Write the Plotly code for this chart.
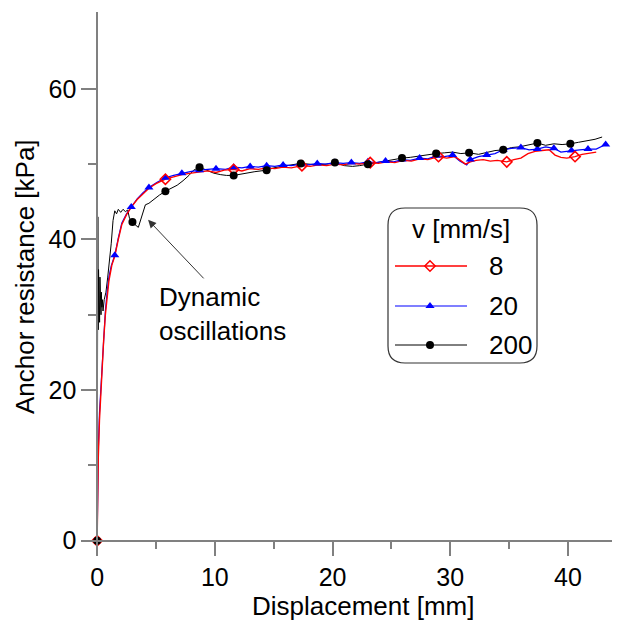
import plotly.graph_objects as go

# ---------------- data ----------------
red_x = [0, 0.03, 0.1, 0.2, 0.3, 0.4, 0.55, 0.7, 0.85, 1.0, 1.25, 1.5, 1.8, 2.1, 2.5, 2.9, 3.4, 3.9, 4.4, 5.0,
         5.8, 6.5, 7.2, 8.0, 8.7, 9.4, 10.1, 10.8, 11.6, 12.3, 13.0, 13.7, 14.4, 15.1, 15.8, 16.5, 17.4, 18.1, 18.8, 19.5,
         20.2, 20.9, 21.6, 22.3, 23.2, 23.9, 24.6, 25.3, 26.0, 26.7, 27.4, 28.1, 29.0, 29.7, 30.4, 30.9, 31.3, 31.7, 32.2, 32.8,
         33.4, 34.0, 34.8, 35.4, 36.0, 36.6, 37.2, 37.8, 38.4, 38.9, 39.4, 39.9, 40.6, 41.2, 41.8, 42.4]
red_y = [0, 5, 11, 16, 19.5, 22, 26.5, 30, 32.5, 34.5, 36.6, 37.8, 40, 42, 43.3, 44.3, 45.3, 46.1, 46.8, 47.4,
         48.0, 48.3, 48.6, 48.8, 49.0, 49.1, 48.9, 49.2, 49.3, 49.1, 49.4, 49.3, 49.5, 49.4, 49.6, 49.5, 49.8, 49.7, 49.9, 49.8,
         50.0, 49.9, 50.1, 50.0, 50.2, 50.1, 50.3, 50.2, 50.5, 50.4, 50.7, 50.6, 51.0, 50.8, 51.0, 50.4, 50.0, 50.3, 50.5, 50.6,
         50.4, 50.5, 50.3, 50.6, 50.8, 51.4, 51.7, 51.8, 51.9, 51.2, 50.9, 50.8, 51.0, 51.3, 51.5, 51.6]
red_mark_x = [0, 5.8, 11.6, 17.4, 23.2, 29.0, 34.8, 40.6]

blue_x = [0, 0.03, 0.1, 0.2, 0.3, 0.4, 0.55, 0.7, 0.85, 1.0, 1.2, 1.5, 1.8, 2.1, 2.5, 2.9, 3.4, 3.9, 4.4, 5.1,
          5.8, 6.5, 7.2, 7.9, 8.7, 9.4, 10.1, 10.9, 11.6, 12.3, 13.0, 13.7, 14.4, 15.1, 15.8, 16.5, 17.3, 18.0, 18.7, 19.4,
          20.2, 20.9, 21.6, 22.3, 23.0, 23.7, 24.5, 25.2, 25.9, 26.6, 27.4, 28.1, 28.8, 29.5, 30.2, 30.8, 31.4, 31.7, 32.4, 33.1,
          33.8, 34.5, 35.2, 36.0, 36.7, 37.4, 38.1, 38.8, 39.4, 39.9, 40.3, 41.0, 41.7, 42.4, 43.2]
blue_y = [0, 6, 12, 17, 20, 22.5, 27, 30.5, 33, 35, 36.5, 37.9, 40.2, 42.2, 43.4, 44.3, 45.4, 46.2, 46.9, 47.6,
          48.2, 48.5, 48.8, 49.0, 49.2, 49.3, 49.4, 49.3, 49.6, 49.5, 49.7, 49.6, 49.8, 49.7, 49.9, 49.8, 50.0, 49.9, 50.1, 50.0,
          50.2, 50.1, 50.2, 50.1, 50.3, 50.2, 50.4, 50.3, 50.6, 50.5, 50.8, 50.7, 51.1, 51.0, 51.2, 50.4, 49.9, 50.6, 51.0, 51.2,
          51.4, 51.9, 52.1, 52.2, 51.9, 52.0, 52.3, 52.1, 51.6, 51.7, 51.8, 51.9, 52.0, 52.0, 52.6]
blue_mark_x = [1.5, 2.9, 4.4, 5.8, 7.2, 8.7, 10.1, 11.6, 13.0, 14.4, 15.8, 17.3, 18.7, 20.2, 21.6, 23.0, 24.5, 25.9,
               27.4, 28.8, 30.2, 31.7, 33.1, 34.5, 36.0, 37.4, 38.8, 40.3, 41.7, 43.2]

black_x = [0, 0.03, 0.06, 0.09, 0.12, 0.15, 0.18, 0.21, 0.24, 0.27, 0.3, 0.33, 0.36, 0.4, 0.45, 0.5, 0.6, 0.75, 0.9, 1.05,
           1.2, 1.35, 1.5, 1.65, 1.8, 2.0, 2.2, 2.4, 2.6, 2.75, 3.0, 3.2, 3.5, 3.7, 3.85, 4.1, 4.4, 4.8, 5.3, 5.8,
           6.3, 6.8, 7.3, 7.8, 8.2, 8.7, 9.3, 9.9, 10.5, 11.0, 11.6, 12.2, 12.8, 13.4, 14.4, 15.0, 15.7, 16.5, 17.3, 18.0,
           18.8, 19.5, 20.2, 21.0, 21.7, 22.3, 23.0, 23.7, 24.4, 25.2, 25.9, 26.6, 27.4, 28.1, 28.8, 29.5, 30.2, 30.9, 31.6, 32.4,
           33.1, 33.8, 34.5, 35.2, 35.9, 36.6, 37.4, 38.1, 38.8, 39.5, 40.2, 40.9, 41.6, 42.3, 42.9]
black_y = [0, 22, 43, 28, 36, 30, 33, 29, 35, 31, 34, 30, 33, 31, 32, 30.5, 32, 33, 35, 37,
           39.5, 42.5, 43.8, 43.4, 44.0, 43.6, 44.0, 43.7, 43.9, 42.8, 42.3, 42.0, 41.6, 42.5, 43.4, 44.6, 44.8, 45.3, 45.9, 46.4,
           46.8, 47.2, 47.8, 48.5, 49.2, 49.6, 49.2, 48.8, 48.6, 48.5, 48.5, 48.7, 48.9, 49.0, 49.2, 49.5, 49.7, 49.9, 50.1, 50.0,
           49.9, 50.0, 50.2, 49.8, 49.7, 49.8, 50.0, 50.1, 50.3, 50.6, 50.8, 50.9, 51.1, 51.2, 51.4, 51.5, 51.6, 51.4, 51.5, 51.3,
           51.6, 51.8, 51.9, 52.2, 52.3, 52.5, 52.8, 52.5, 52.7, 52.6, 52.7, 52.9, 53.1, 53.3, 53.6]
black_mark_x = [0, 3.0, 5.8, 8.7, 11.6, 14.4, 17.3, 20.2, 23.0, 25.9, 28.8, 31.6, 34.5, 37.4, 40.2]

series_names = ["8", "20", "200"]
legend_title = "v [mm/s]"
x_title = "Displacement [mm]"
y_title = "Anchor resistance [kPa]"
x_ticks = [0, 10, 20, 30, 40]
x_minor = [5, 15, 25, 35]
y_ticks = [0, 20, 40, 60]
y_minor = [10, 30, 50]
note_text = "Dynamic<br>oscillations"

# ---------------- styling ----------------
FONT = "Liberation Sans, Arial, sans-serif"
AX = "#808080"
RED, BLUE, BLACK = "#ff0000", "#0000ff", "#000000"

# plot area in page pixels: x 83..620, y 12..555 (page has an 8px body offset)
PX0, PX1, PY0, PY1 = 83, 620, 12, 555


def px2paper_x(v):
    return (v - PX0) / (PX1 - PX0)


def px2paper_y(v):
    return (PY1 - v) / (PY1 - PY0)


def pick(xs, ys, marks):
    px, py = [], []
    for a, b in zip(xs, ys):
        if any(abs(a - m) < 1e-9 for m in marks):
            px.append(a)
            py.append(b)
    return px, py


fig = go.Figure()
fig.add_trace(go.Scatter(x=black_x, y=black_y, mode="lines", line=dict(color=BLACK, width=1)))
fig.add_trace(go.Scatter(x=blue_x, y=blue_y, mode="lines", line=dict(color=BLUE, width=1.2)))
fig.add_trace(go.Scatter(x=red_x, y=red_y, mode="lines", line=dict(color=RED, width=1.4)))

bx, by = pick(blue_x, blue_y, blue_mark_x)
fig.add_trace(go.Scatter(x=bx, y=by, mode="markers",
                         marker=dict(symbol="triangle-up", size=8, color=BLUE)))
rx, ry = pick(red_x, red_y, red_mark_x)
fig.add_trace(go.Scatter(x=rx, y=ry, mode="markers",
                         marker=dict(symbol="diamond-open", size=8, color=RED, line=dict(width=1.5, color=RED))))
kx, ky = pick(black_x, black_y, black_mark_x)
fig.add_trace(go.Scatter(x=kx, y=ky, mode="markers",
                         marker=dict(symbol="circle", size=8, color=BLACK)))

# ---------------- manual legend on a pixel-like overlay axis ----------------
leg_rows = [266, 306, 345]
leg_styles = [
    (RED, dict(symbol="diamond-open", size=8, color=RED, line=dict(width=1.5, color=RED)), 1.4),
    (BLUE, dict(symbol="triangle-up", size=8, color=BLUE), 1.2),
    (BLACK, dict(symbol="circle", size=8, color=BLACK), 1),
]
for yy, (col, mk, lw), name in zip(leg_rows, leg_styles, series_names):
    fig.add_trace(go.Scatter(x=[395, 467], y=[yy, yy], mode="lines", line=dict(color=col, width=lw),
                             xaxis="x2", yaxis="y2", hoverinfo="skip"))
    fig.add_trace(go.Scatter(x=[430], y=[yy], mode="markers", marker=mk,
                             xaxis="x2", yaxis="y2", hoverinfo="skip"))
    fig.add_annotation(x=487, y=yy, xref="x2", yref="y2", text=name, showarrow=False,
                       xanchor="left", yanchor="middle", font=dict(size=26, color="black", family=FONT))

fig.add_annotation(x=461, y=229, xref="x2", yref="y2", text=legend_title, showarrow=False,
                   xanchor="center", yanchor="middle", font=dict(size=26, color="black", family=FONT))
fig.add_shape(type="path", xref="x2", yref="y2",
              path="M 405,208 L 520,208 Q 537,208 537,225 L 537,346 Q 537,363 520,363 "
                   "L 405,363 Q 388,363 388,346 L 388,225 Q 388,208 405,208 Z",
              line=dict(color="#333333", width=1.2), fillcolor="rgba(0,0,0,0)")

# axis titles (paper coordinates)
fig.add_annotation(x=px2paper_x(363), y=px2paper_y(606), xref="paper", yref="paper", text=x_title,
                   showarrow=False, xanchor="center", yanchor="middle",
                   font=dict(size=26, color="black", family=FONT))
fig.add_annotation(x=px2paper_x(25), y=px2paper_y(277), xref="paper", yref="paper", text=y_title,
                   showarrow=False, textangle=-90, xanchor="center", yanchor="middle",
                   font=dict(size=26, color="black", family=FONT))

# note + arrow
fig.add_annotation(x=157, y=314, xref="x2", yref="y2", text=note_text, showarrow=False,
                   xanchor="left", yanchor="middle", align="left",
                   font=dict(size=26, color="black", family=FONT))
fig.add_annotation(x=4.33, y=42.6, xref="x", yref="y", text="", showarrow=True,
                   ax=57, ay=60, arrowhead=2, arrowsize=1.6, arrowwidth=1, arrowcolor="#333333")

x_rng = [-1.2, 44.42]
y_rng = [-1.9, 70.2]
tick_common = dict(ticks="outside", ticklen=15, tickwidth=1.5, tickcolor=AX,
                   showline=True, linecolor=AX, linewidth=1.5, showgrid=False, zeroline=False,
                   tickfont=dict(size=25, color="black", family=FONT), automargin=False)

fig.update_layout(
    width=612, height=614,
    margin=dict(l=PX0 - 8, r=0, t=PY0 - 8, b=614 - (PY1 - 8)),
    plot_bgcolor="white", paper_bgcolor="white",
    showlegend=False,
    xaxis=dict(range=x_rng, tickmode="array", tickvals=x_ticks, anchor="free",
               position=(0 - y_rng[0]) / (y_rng[1] - y_rng[0]),
               minor=dict(tickmode="array", tickvals=x_minor, ticks="outside", ticklen=8,
                          tickwidth=1.5, tickcolor=AX),
               **tick_common),
    yaxis=dict(range=y_rng, tickmode="array", tickvals=y_ticks, anchor="free",
               position=(0 - x_rng[0]) / (x_rng[1] - x_rng[0]),
               minor=dict(tickmode="array", tickvals=y_minor, ticks="outside", ticklen=8,
                          tickwidth=1.5, tickcolor=AX),
               **tick_common),
    xaxis2=dict(range=[PX0, PX1], overlaying="x", visible=False, anchor="y2"),
    yaxis2=dict(range=[PY1, PY0], overlaying="y", visible=False, anchor="x2"),
)

fig.write_html("out.html")
